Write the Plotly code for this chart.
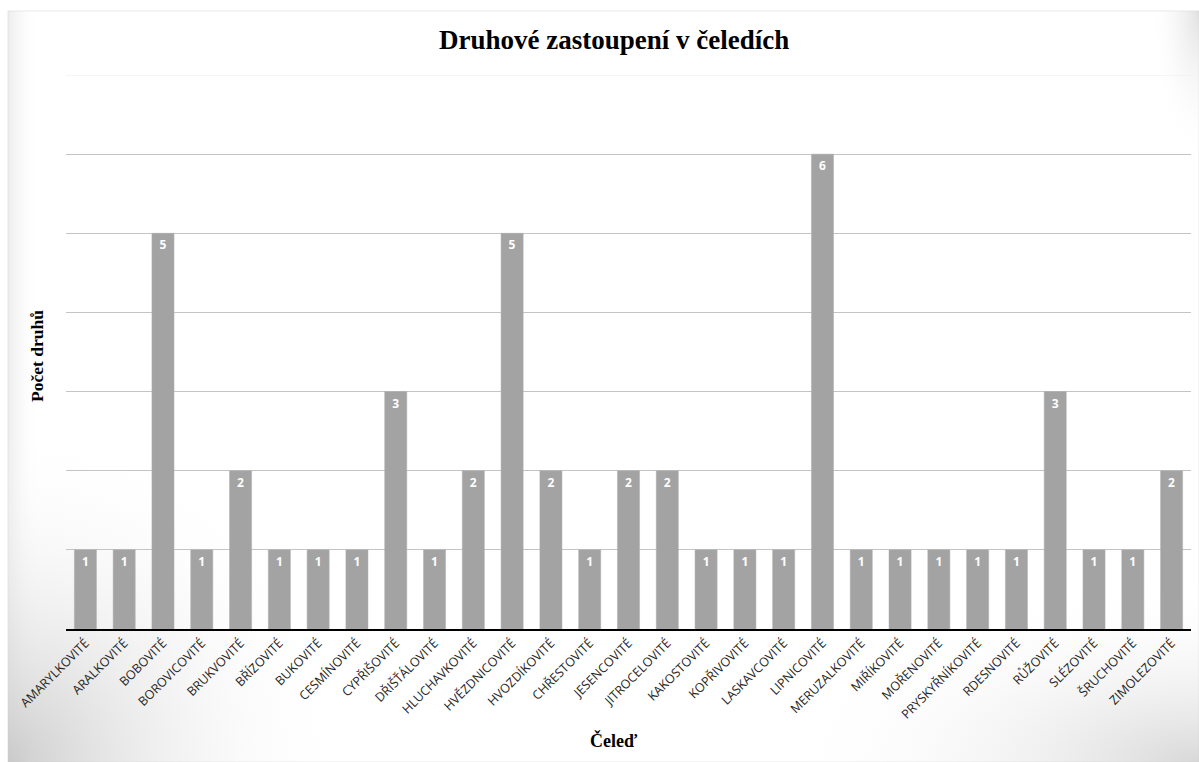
import base64
import plotly.graph_objects as go

categories = ["AMARYLKOVITÉ", "ARALKOVITÉ", "BOBOVITÉ", "BOROVICOVITÉ", "BRUKVOVITÉ",
              "BŘÍZOVITÉ", "BUKOVITÉ", "CESMÍNOVITÉ", "CYPŘIŠOVITÉ", "DŘIŠŤÁLOVITÉ",
              "HLUCHAVKOVITÉ", "HVĚZDNICOVITÉ", "HVOZDÍKOVITÉ", "CHŘESTOVITÉ", "JESENCOVITÉ",
              "JITROCELOVITÉ", "KAKOSTOVITÉ", "KOPŘIVOVITÉ", "LASKAVCOVITÉ", "LIPNICOVITÉ",
              "MERUZALKOVITÉ", "MIŘÍKOVITÉ", "MOŘENOVITÉ", "PRYSKYŘNÍKOVITÉ", "RDESNOVITÉ",
              "RŮŽOVITÉ", "SLÉZOVITÉ", "ŠRUCHOVITÉ", "ZIMOLEZOVITÉ"]
counts = [1, 1, 5, 1, 2, 1, 1, 1, 3, 1, 2, 5, 2, 1, 2, 2, 1, 1, 1, 6, 1, 1, 1, 1, 1, 3, 1, 1, 2]
y_max = 7

W, H = 1199, 762
L, R, T, B = 66, 8, 75, 133
pw, ph = W - L - R, H - T - B

svg = f"""<svg xmlns='http://www.w3.org/2000/svg' width='{W}' height='{H}' viewBox='0 0 {W} {H}'>
<defs>
<radialGradient id='bl' cx='0' cy='1' r='1'>
<stop offset='0' stop-color='#c4c4c4' stop-opacity='0.85'/>
<stop offset='1' stop-color='#ffffff' stop-opacity='0'/>
</radialGradient>
<radialGradient id='br' cx='1' cy='1' r='1'>
<stop offset='0' stop-color='#c8c8c8' stop-opacity='0.7'/>
<stop offset='1' stop-color='#ffffff' stop-opacity='0'/>
</radialGradient>
<radialGradient id='tr' cx='1' cy='0' r='1'>
<stop offset='0' stop-color='#d4d4d4' stop-opacity='0.7'/>
<stop offset='1' stop-color='#ffffff' stop-opacity='0'/>
</radialGradient>
<linearGradient id='lf' x1='0' y1='0' x2='1' y2='0'>
<stop offset='0' stop-color='#dadada' stop-opacity='0.5'/>
<stop offset='1' stop-color='#ffffff' stop-opacity='0'/>
</linearGradient>
</defs>
<rect x='0' y='0' width='{W}' height='{H}' fill='#ffffff'/>
<rect x='8' y='11' width='{W-8}' height='{H-11}' fill='#ffffff' stroke='#e8e8e8' stroke-width='1'/>
<rect x='8' y='11' width='30' height='{H-11}' fill='url(#lf)'/>
<rect x='8' y='420' width='340' height='342' fill='url(#bl)'/>
<rect x='780' y='580' width='419' height='182' fill='url(#br)'/>
<rect x='1150' y='11' width='49' height='150' fill='url(#tr)'/>
</svg>"""
src = "data:image/svg+xml;base64," + base64.b64encode(svg.encode()).decode()

fig = go.Figure()
fig.add_trace(go.Bar(
    x=categories, y=counts,
    marker=dict(color="#a3a3a3", line=dict(color="#b0b0b0", width=0.5)),
    text=[str(v) for v in counts], textposition="inside", insidetextanchor="end",
    textangle=0,
    textfont=dict(family="Open Sans", size=12, color="white", weight="bold"),
    cliponaxis=False,
))

fig.add_shape(type="line", xref="paper", yref="y", x0=0, x1=1, y0=y_max, y1=y_max,
              line=dict(color="#ececec", width=1), layer="below")

fig.update_layout(
    width=W, height=H,
    margin=dict(l=L, r=R, t=T, b=B, autoexpand=False),
    paper_bgcolor="rgba(0,0,0,0)", plot_bgcolor="rgba(0,0,0,0)",
    bargap=0.43,
    showlegend=False,
    xaxis=dict(tickangle=-45, tickfont=dict(family="Open Sans", size=12.5, color="#262626"),
               showline=True, linecolor="black", linewidth=2, ticks="", showgrid=False),
    yaxis=dict(range=[0, y_max], dtick=1, showticklabels=False, showgrid=True,
               gridcolor="#c4c4c4", gridwidth=1, zeroline=False, showline=False),
    images=[dict(source=src, xref="paper", yref="paper",
                 x=-L / pw, y=(ph + T) / ph, sizex=W / pw, sizey=H / ph,
                 xanchor="left", yanchor="top", sizing="stretch", layer="below")],
    annotations=[
        dict(text="<b>Druhové zastoupení v čeledích</b>", xref="paper", yref="paper",
             x=(614 - L) / pw, y=(629 - 40) / ph, showarrow=False,
             xanchor="center", yanchor="middle",
             font=dict(family="Liberation Serif", size=27, color="black")),
        dict(text="<b>Počet druhů</b>", xref="paper", yref="paper",
             x=(37 - L) / pw, y=(629 - 356) / ph, showarrow=False, textangle=-90,
             xanchor="center", yanchor="middle",
             font=dict(family="Liberation Serif", size=17.5, color="black")),
        dict(text="<b>Čeleď</b>", xref="paper", yref="paper",
             x=(614 - L) / pw, y=(629 - 740) / ph, showarrow=False,
             xanchor="center", yanchor="middle",
             font=dict(family="Liberation Serif", size=18, color="black")),
    ],
)

fig.write_html("out.html")
